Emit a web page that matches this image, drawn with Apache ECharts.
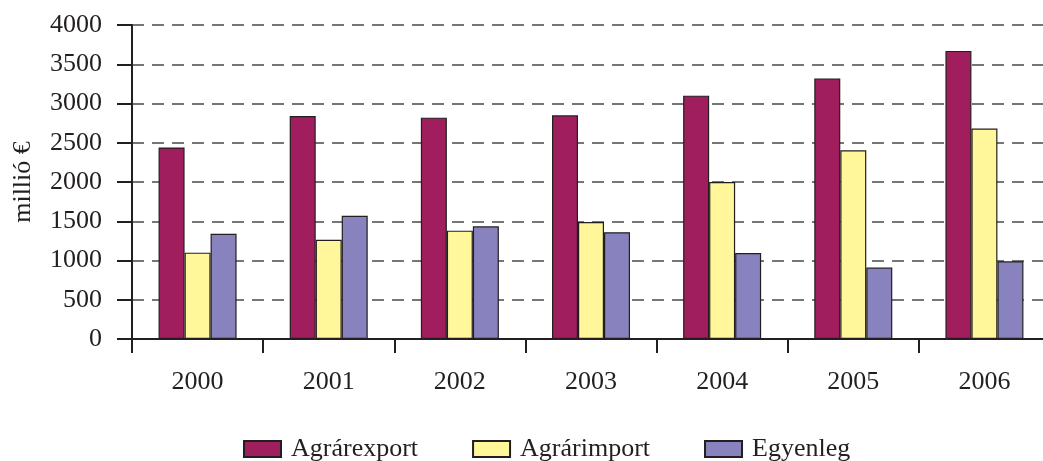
<!DOCTYPE html>
<html>
<head>
<meta charset="utf-8">
<script src="https://cdn.jsdelivr.net/npm/echarts@6/dist/echarts.min.js"></script>
<style>
    html, body {margin: 0; padding: 0; background: #fff;}
    #chart {width: 1043px; height: 461px;}
</style>
</head>
<body>
<div id="chart"></div>
<script>
var years = ['2000', '2001', '2002', '2003', '2004', '2005', '2006'];
var agrarexport = [2440, 2840, 2820, 2850, 3100, 3320, 3670];
var agrarimport = [1100, 1265, 1380, 1490, 2000, 2405, 2680];
var egyenleg = [1340, 1570, 1435, 1360, 1095, 910, 990];

var font = 'Liberation Serif';
var ink = '#231F20';

var myChart = echarts.init(document.getElementById('chart'));

function barSeries(name, data, color) {
    return {
        name: name,
        type: 'bar',
        data: data,
        barWidth: 26,
        barGap: '0%',
        itemStyle: {
            color: color,
            borderColor: ink,
            borderWidth: 1.2
        }
    };
}

myChart.setOption({
    animation: false,
    textStyle: {fontFamily: font},
    grid: {
        left: 132,
        width: 918,
        top: 25,
        height: 314,
        outerBoundsMode: 'none'
    },
    legend: {
        left: 238,
        top: 431,
        icon: 'rect',
        itemWidth: 37,
        itemHeight: 16,
        itemGap: 54,
        textStyle: {fontFamily: font, fontSize: 26, color: ink, padding: [0, 0, 0, 5]},
        data: ['Agrárexport', 'Agrárimport', 'Egyenleg']
    },
    xAxis: {
        type: 'category',
        data: years,
        axisLine: {lineStyle: {color: ink, width: 2}},
        axisTick: {show: true, length: 14, lineStyle: {color: ink, width: 2}},
        axisLabel: {fontFamily: font, fontSize: 26, color: ink, margin: 30}
    },
    yAxis: {
        type: 'value',
        min: 0,
        max: 4000,
        interval: 500,
        name: 'millió €',
        nameLocation: 'middle',
        nameGap: 96,
        nameTextStyle: {fontFamily: font, fontSize: 26, color: ink},
        axisLine: {show: true, lineStyle: {color: ink, width: 2}},
        axisTick: {show: true, length: 15, lineStyle: {color: ink, width: 2}},
        axisLabel: {
            fontFamily: font, fontSize: 26, color: ink, margin: 30,
            formatter: function (v) { return String(v); }
        },
        splitLine: {
            show: true,
            lineStyle: {color: '#4a4a4a', width: 1.5, type: [12, 8]}
        }
    },
    series: [
        barSeries('Agrárexport', agrarexport, '#A01E5E'),
        barSeries('Agrárimport', agrarimport, '#FFF799'),
        barSeries('Egyenleg', egyenleg, '#8882BE')
    ]
});
</script>
</body>
</html>
